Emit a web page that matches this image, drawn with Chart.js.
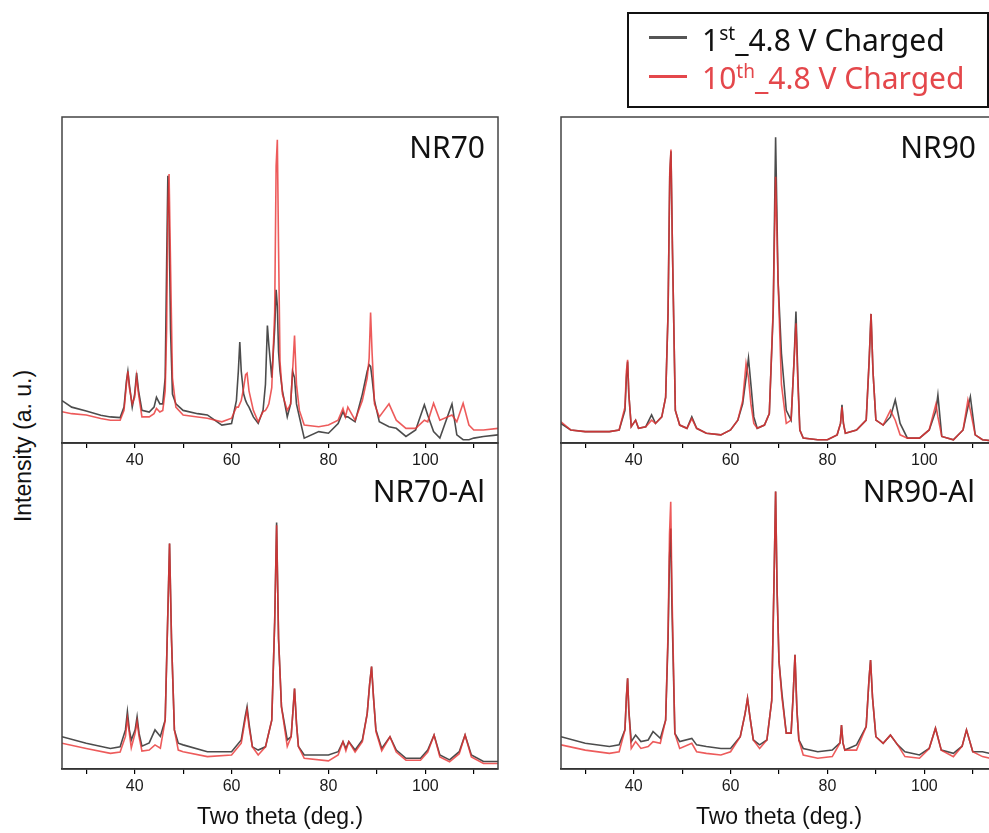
<!DOCTYPE html>
<html>
<head>
<meta charset="utf-8">
<script src="https://cdn.jsdelivr.net/npm/chart.js@4.4.0/dist/chart.umd.min.js"></script>
<style>
  html, body { margin: 0; padding: 0; background: #fff; overflow: hidden; width: 989px; height: 833px; }
  canvas { position: absolute; }
  #legend {
    position: absolute; left: 627px; top: 12px; width: 358px; height: 92px;
    border: 2px solid #111; font-family: "Noto Sans", sans-serif; font-size: 30px;
  }
  #legend .row { position: absolute; left: 73px; white-space: nowrap; line-height: 1; }
  #legend .swatch { position: absolute; left: 20px; width: 38px; height: 3px; }
  #legend sup { font-size: 19px; vertical-align: 11px; line-height: 0; }
  #ytitle {
    position: absolute; left: 23px; top: 446px; transform: translate(-50%, -50%) rotate(-90deg);
    font-family: "Liberation Sans", Arial, sans-serif; font-size: 23px; color: #111; white-space: nowrap;
  }
</style>
</head>
<body>
<canvas id="nr70al" width="456" height="400" style="left:52px; top:433px"></canvas>
<canvas id="nr90al" width="456" height="400" style="left:551px; top:433px"></canvas>
<canvas id="nr70" width="456" height="376" style="left:52px; top:107px"></canvas>
<canvas id="nr90" width="456" height="376" style="left:551px; top:107px"></canvas>

<div id="legend">
  <div class="swatch" style="top:22px; background:#555"></div>
  <div class="row" style="top:11px; color:#111">1<sup>st</sup>_4.8 V Charged</div>
  <div class="swatch" style="top:61px; background:#e4474b"></div>
  <div class="row" style="top:49px; color:#e4474b">10<sup>th</sup>_4.8 V Charged</div>
</div>
<div id="ytitle">Intensity (a. u.)</div>

<script>
// two theta grid and intensities (a.u.) for each sample
const nr70Theta = [25, 27, 30, 33, 35, 37, 37.8, 38.3, 38.6, 38.9, 39.5, 40.0, 40.4, 40.8, 41.5, 43, 44, 44.5, 45.2, 45.8,
  46.3, 46.6, 46.85, 47.1, 47.4, 47.8, 48.5, 50, 53, 55, 58, 60, 61, 61.4, 61.7, 62.0, 62.5, 62.9, 63.2, 63.6,
  64.5, 65.5, 66.5, 67.0, 67.4, 67.7, 68.3, 68.9, 69.2, 69.45, 69.7, 70.0, 70.5, 71.5, 72.2, 72.6, 73.0, 73.4, 74, 75,
  78, 80, 82, 83, 83.5, 84, 85.5, 87, 88, 88.4, 88.7, 89.0, 89.5, 90.5, 92.5, 94, 96, 98, 99.8, 100.5,
  101.7, 103, 105.5, 106.5, 107.8, 109, 110, 112, 115];
const nr70First = [13, 11, 9.8, 8.5, 8, 7.8, 11, 19, 22, 18, 11, 15, 21.5, 16, 10, 9.5, 11, 14, 12, 12,
  20, 55, 82, 70, 35, 15, 12, 10, 9, 8.6, 5.5, 6, 13, 22, 31, 22, 15, 13, 12, 11,
  8, 6, 10, 18, 36, 30, 20, 35, 47, 42, 28, 22, 16, 8, 12, 22, 20, 12, 8, 1.5,
  3.5, 3, 6, 9.6, 8, 8, 6.5, 15, 22, 24, 23.5, 20, 13, 6.5, 5, 4.5, 2, 4, 11.7, 8.5,
  3.5, 1.5, 12, 2.5, 1, 1, 1.5, 2, 2.5];
const nr70Tenth = [9.6, 9, 8.6, 7.5, 7, 7, 10, 18, 22, 17, 12, 14, 20.3, 15, 8, 8, 9, 10.6, 9.5, 10,
  16, 35, 70, 82.5, 55, 20, 11, 8.6, 8, 7.6, 6.5, 7.6, 11, 11, 12, 13, 17, 21, 21.4, 16,
  10, 6.5, 9.6, 10, 11, 12, 17, 40, 85, 93, 60, 25, 15, 10, 12, 22, 33, 18, 10, 5.5,
  5, 5.5, 7, 10.6, 8, 11, 7, 13, 20, 26, 40, 28, 12, 8, 12, 7, 4.5, 4.5, 7, 6.5,
  12.2, 7, 8.6, 6.5, 12.2, 5.5, 4, 4, 4.5];

const nr90Theta = [25, 27, 30, 35, 37, 38.2, 38.5, 38.75, 39.0, 39.5, 40.4, 41, 42.5, 43.7, 44.5, 45.8, 46.6, 47.1, 47.45, 47.7,
  48.0, 48.6, 49.5, 51, 52, 53, 55, 58, 60, 61.5, 62.5, 63.2, 63.7, 64.2, 64.8, 65.5, 67, 68, 68.8, 69.3,
  69.8, 70.5, 71.5, 72.5, 73.1, 73.5, 73.9, 74.3, 75, 78, 80, 82, 82.7, 83, 83.3, 83.7, 86, 88, 88.6, 89,
  89.4, 90, 91.5, 93, 94, 95, 96.5, 99, 101, 102.4, 102.8, 103.6, 106, 108, 109, 109.5, 110.5, 112, 115];
const nr90First = [6, 4, 3.5, 3.5, 4, 10, 20, 25, 15, 5, 7, 4.5, 5, 8.6, 6, 8, 14, 40, 82, 89.5,
  60, 10, 5.5, 4.5, 8, 4.5, 3, 2.5, 4, 7, 12, 20, 26, 18, 8, 4.5, 5.5, 9, 40, 93.8,
  50, 27.5, 10, 7, 25, 40.3, 20, 4, 1.5, 1, 1, 2.5, 6, 11.7, 6, 3, 4, 7, 25, 39.6,
  22, 7, 5.5, 8, 13.2, 6, 1.5, 1.5, 4, 10, 14.7, 2, 1, 4, 11, 14.2, 2.5, 1, 0.5];
const nr90Tenth = [6.5, 4, 3.5, 3.5, 4, 11, 22, 25.5, 15, 5, 7, 4.5, 5, 7, 6, 8, 14, 40, 83, 90,
  60, 10, 5.5, 4.5, 7.5, 4.5, 3, 2.5, 4, 7, 13, 24.4, 20, 12, 6, 4.5, 5.5, 9, 41, 81.7,
  50, 18, 6, 7, 25, 36.7, 18, 4, 1.5, 1, 1, 2.5, 6, 11, 6, 3, 4, 7, 25, 39.6,
  22, 7, 5.5, 10, 7, 2.5, 1.5, 1.5, 4, 12, 8, 2, 1, 4, 13.2, 10, 2.5, 1, 0.5];

const nr70AlTheta = [25, 30, 35, 37, 38.1, 38.5, 38.9, 39.3, 40.1, 40.5, 40.9, 41.5, 43, 44.2, 45.3, 46.3, 46.8, 47.2, 47.6, 48.2,
  49, 50, 55, 60, 62, 62.8, 63.2, 63.6, 64.3, 65.5, 67, 68.3, 68.9, 69.3, 69.7, 70.3, 71.5, 72.3, 73.0, 73.4,
  73.8, 75, 80, 82, 83, 83.6, 84.2, 85.5, 87, 88, 88.5, 88.9, 89.3, 89.8, 91, 92.7, 94, 96, 99, 100.5,
  101.8, 103, 105, 107, 108.2, 109.5, 112, 115];
const nr70AlFirst = [9.9, 7.9, 6.3, 6.8, 12, 17.6, 12, 8.9, 12, 16, 11, 7, 8, 12, 10, 15, 45, 69.2, 40, 12,
  7.9, 7.4, 5.3, 5.3, 8.9, 16, 19.1, 14, 6.8, 5.8, 6.8, 15, 45, 75.6, 40, 19.1, 8.9, 9.9, 24.7, 14,
  6.9, 4.3, 4.3, 5.3, 8.4, 6.3, 8.4, 5.8, 8.9, 17, 26, 31.4, 22, 12, 6.3, 9.9, 5.8, 3.3, 3.3, 5.8,
  10.4, 4.3, 2.8, 5.3, 10.4, 4.3, 2.3, 2.3];
const nr70AlTenth = [7.9, 6.3, 4.8, 5.2, 10, 15.5, 11, 6.5, 11, 14.5, 10, 5.5, 5.8, 7.4, 6.4, 15, 45, 69.2, 40, 12,
  5.8, 5.3, 3.8, 4.3, 7.9, 15, 18.1, 13, 6.8, 4.3, 6.8, 15, 45, 74.8, 40, 19.1, 6.9, 9.9, 24.7, 14,
  6.9, 3.3, 2.5, 4.3, 8.4, 5.6, 8.4, 5.2, 8.4, 17, 26, 31.4, 22, 11.5, 5.6, 9.9, 5.2, 2.7, 2.7, 5.2,
  10.4, 3.7, 2.2, 4.7, 10.4, 3.7, 1.7, 1.7];

const nr90AlTheta = [25, 30, 35, 37, 38.2, 38.5, 38.75, 39.0, 39.5, 40.4, 41.5, 43, 44, 45.5, 46.6, 47.1, 47.4, 47.65, 47.9, 48.5,
  49.5, 52, 53, 55, 58, 60, 62, 63, 63.5, 64, 64.7, 66, 67.5, 68.5, 69.0, 69.3, 69.6, 70, 70.6, 71.5,
  72.5, 72.9, 73.3, 73.7, 74.1, 75, 78, 81, 82.6, 82.9, 83.2, 83.6, 86, 88, 88.6, 88.9, 89.3, 90, 91.5, 93,
  94.5, 96, 99, 101, 102.3, 103.5, 106, 107.8, 108.7, 110, 112, 115];
const nr90AlFirst = [9.9, 7.9, 6.9, 7.4, 12, 22, 27.8, 18, 8.4, 10.4, 8.4, 8.9, 11.5, 9.4, 15, 40, 65, 73.8, 50, 10.9,
  8.4, 9.4, 7.4, 6.9, 6.3, 6.3, 9.9, 17, 21.7, 16, 8.9, 7.4, 8.9, 21, 60, 85.1, 55, 33, 23.2, 11,
  11, 22, 35, 18, 8.9, 6.3, 5.3, 5.8, 8, 13.5, 8, 5.8, 7.4, 13, 28, 33.4, 22, 9.9, 7.9, 10.4,
  7.4, 5.3, 4.3, 6.3, 12.5, 5.8, 4.8, 7, 12, 5.3, 5.3, 4.3];
const nr90AlTenth = [7.4, 5.8, 4.8, 5.3, 12, 22, 27.8, 18, 6.3, 8.4, 6.3, 6.9, 8.4, 7.9, 15, 42, 72, 82, 55, 10.9,
  6.3, 7.9, 5.3, 4.8, 4.3, 5.3, 9.9, 17, 21.7, 16, 8.9, 6.3, 8.9, 21, 60, 85.1, 55, 33, 22, 11,
  11, 22, 35, 18, 8.9, 4.3, 3.3, 3.8, 8, 13.5, 8, 5.8, 5.8, 13, 28, 33.4, 22, 9.9, 7.9, 10.4,
  7.4, 3.8, 3.3, 6.3, 12.5, 5.8, 3.8, 7, 12, 5.3, 3.8, 2.8];

const seriesNames = ['1st_4.8 V Charged', '10th_4.8 V Charged'];
const thetaTicks = [30, 40, 50, 60, 70, 80, 90, 100, 110];
const thetaLabels = [40, 60, 80, 100];
const tickFont = { family: '"Liberation Sans", Arial, sans-serif', size: 16 };

const toPoints = (xs, ys) => xs.map((x, i) => ({ x: x, y: ys[i] }));

// frame around the plot area plus the sample name in the upper right corner
const panelDecor = {
  id: 'panelDecor',
  afterDraw(chart, args, opts) {
    const { ctx, chartArea } = chart;
    ctx.save();
    ctx.strokeStyle = '#444';
    ctx.lineWidth = 1.5;
    ctx.strokeRect(chartArea.left, chartArea.top, chartArea.right - chartArea.left, chartArea.bottom - chartArea.top);
    ctx.fillStyle = '#111';
    ctx.font = '30px "Noto Sans", sans-serif';
    ctx.textAlign = 'right';
    ctx.textBaseline = 'alphabetic';
    ctx.fillText(opts.label, chartArea.right - opts.dx, chartArea.top + opts.dy);
    ctx.restore();
  }
};

function makePanel(id, label, theta, first, tenth, bottomRow, dx) {
  const xScale = {
    type: 'linear',
    min: 25,
    max: 115,
    afterFit: (scale) => { scale.height = bottomRow ? 64 : 40; },
    afterBuildTicks: (scale) => { scale.ticks = thetaTicks.map((v) => ({ value: v })); },
    border: { display: true, color: '#000', width: 1.5 },
    grid: { drawOnChartArea: false, drawTicks: true, tickLength: 5, color: '#000', lineWidth: 1.2 },
    ticks: {
      autoSkip: false,
      maxRotation: 0,
      padding: 3,
      color: '#1a1a1a',
      font: tickFont,
      callback: (v) => (thetaLabels.includes(v) ? String(v) : '')
    },
    title: {
      display: bottomRow,
      text: 'Two theta (deg.)',
      color: '#111',
      font: { family: '"Liberation Sans", Arial, sans-serif', size: 23 },
      padding: { top: 0, bottom: 2 }
    }
  };
  return new Chart(document.getElementById(id), {
    type: 'line',
    data: {
      datasets: [
        {
          label: seriesNames[0],
          data: toPoints(theta, first),
          borderColor: 'rgba(45,45,45,0.85)',
          borderWidth: 1.6,
          pointRadius: 0,
          order: 1
        },
        {
          label: seriesNames[1],
          data: toPoints(theta, tenth),
          borderColor: 'rgba(232,50,50,0.8)',
          borderWidth: 1.6,
          pointRadius: 0,
          order: 0
        }
      ]
    },
    options: {
      responsive: false,
      animation: false,
      layout: { padding: { top: 10, left: 10, right: 10, bottom: 0 } },
      scales: {
        x: xScale,
        y: { display: false, min: 0, max: 100 }
      },
      plugins: {
        legend: { display: false },
        tooltip: { enabled: false },
        panelDecor: { label: label, dx: dx, dy: bottomRow ? 59 : 41 }
      }
    },
    plugins: [panelDecor]
  });
}

makePanel('nr70al', 'NR70-Al', nr70AlTheta, nr70AlFirst, nr70AlTenth, true, 13);
makePanel('nr90al', 'NR90-Al', nr90AlTheta, nr90AlFirst, nr90AlTenth, true, 22);
makePanel('nr70', 'NR70', nr70Theta, nr70First, nr70Tenth, false, 13);
makePanel('nr90', 'NR90', nr90Theta, nr90First, nr90Tenth, false, 21);
</script>
</body>
</html>
